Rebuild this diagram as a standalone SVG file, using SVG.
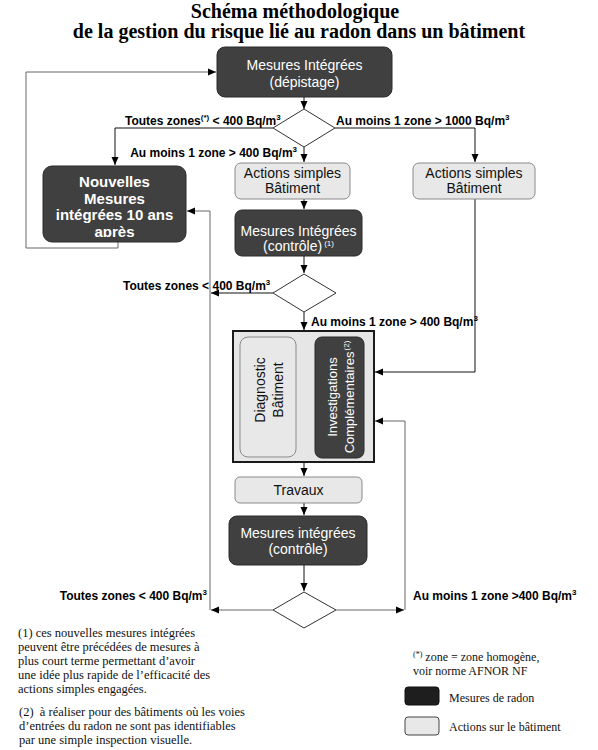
<svg xmlns="http://www.w3.org/2000/svg" width="598" height="750" viewBox="0 0 598 750">
<defs>
<marker id="arr" markerWidth="8" markerHeight="8" refX="8" refY="4" orient="auto" markerUnits="userSpaceOnUse">
<path d="M0,0.5 L8,4 L0,7.5 z" fill="#000"/>
</marker>
<clipPath id="clipN"><rect x="40" y="160" width="150" height="77"/></clipPath>
<style>
.dark{fill:#404040;stroke:#2a2a2a;stroke-width:1}
.light{fill:#e8e8e8;stroke:#8a8a8a;stroke-width:1}
.big{fill:#e6e6e6;stroke:#1a1a1a;stroke-width:2}
.dia{fill:#fff;stroke:#333;stroke-width:1}
.t{font-family:"Liberation Sans",Arial,sans-serif;font-size:14px;text-anchor:middle}
.w{fill:#fff}
.k{fill:#111}
.nb{font-family:"Liberation Sans",Arial,sans-serif;font-size:15px;font-weight:bold;text-anchor:middle;fill:#fff}
.lab{font-family:"Liberation Sans",Arial,sans-serif;font-size:12px;font-weight:bold;fill:#000}
.sup{font-size:8px}
.title{font-family:"Liberation Serif","Times New Roman",serif;font-size:20px;font-weight:bold;text-anchor:middle;fill:#000}
.note{font-family:"Liberation Serif","Times New Roman",serif;font-size:12.5px;fill:#111}
.leg{font-family:"Liberation Serif","Times New Roman",serif;font-size:12px;fill:#111}
.ln{fill:none;stroke:#111;stroke-width:1}
.lg{fill:none;stroke:#666;stroke-width:1}
</style>
</defs>

<g id="title">
<text class="title" x="295" y="18">Schéma méthodologique</text>
<text class="title" x="299" y="38">de la gestion du risque lié au radon dans un bâtiment</text>
</g>

<g id="connectors">
<polyline class="lg" points="118,242 118,248 26,248 26,72 216,72" marker-end="url(#arr)"/>
<line class="ln" x1="304" y1="97" x2="304" y2="109" marker-end="url(#arr)"/>
<polyline class="ln" points="273,128 115,128 115,165" marker-end="url(#arr)"/>
<polyline class="ln" points="335,128 475,128 475,162" marker-end="url(#arr)"/>
<line class="ln" x1="304" y1="147" x2="304" y2="162" marker-end="url(#arr)"/>
<line class="ln" x1="304" y1="199" x2="304" y2="209" marker-end="url(#arr)"/>
<line class="ln" x1="304" y1="256" x2="304" y2="273" marker-end="url(#arr)"/>
<line class="ln" x1="273" y1="293" x2="211" y2="293" marker-end="url(#arr)"/>
<line class="ln" x1="304" y1="312" x2="304" y2="330" marker-end="url(#arr)"/>
<polyline class="ln" points="475,199 475,372 375,372" marker-end="url(#arr)"/>
<line class="ln" x1="296" y1="386" x2="314" y2="386" marker-end="url(#arr)"/>
<line class="lg" x1="315" y1="406" x2="297" y2="406" marker-end="url(#arr)"/>
<line class="ln" x1="304" y1="462" x2="304" y2="476" marker-end="url(#arr)"/>
<line class="ln" x1="304" y1="503" x2="304" y2="515" marker-end="url(#arr)"/>
<line class="ln" x1="304" y1="565" x2="304" y2="591" marker-end="url(#arr)"/>
<line class="lg" x1="273" y1="610" x2="211" y2="610" marker-end="url(#arr)"/>
<polyline class="lg" points="210,610 210,211 187,211" marker-end="url(#arr)"/>
<line class="lg" x1="336" y1="610" x2="404" y2="610" marker-end="url(#arr)"/>
<polyline class="lg" points="405,610 405,421 375,421" marker-end="url(#arr)"/>
</g>

<g id="labels">
<text class="lab" x="125" y="125">Toutes zones<tspan class="sup" dy="-5">(*)</tspan><tspan dy="5"> &lt; 400 Bq/m</tspan><tspan class="sup" dy="-5">3</tspan></text>
<text class="lab" x="336" y="125">Au moins 1 zone &gt; 1000 Bq/m<tspan class="sup" dy="-5">3</tspan></text>
<text class="lab" x="297" y="157" text-anchor="end">Au moins 1 zone &gt; 400 Bq/m<tspan class="sup" dy="-5">3</tspan></text>
<text class="lab" x="123" y="290">Toutes zones &lt; 400 Bq/m<tspan class="sup" dy="-5">3</tspan></text>
<text class="lab" x="311" y="326">Au moins 1 zone &gt; 400 Bq/m<tspan class="sup" dy="-5">3</tspan></text>
<text class="lab" x="207" y="600" text-anchor="end">Toutes zones &lt; 400 Bq/m<tspan class="sup" dy="-5">3</tspan></text>
<text class="lab" x="413" y="600">Au moins 1 zone &gt;400 Bq/m<tspan class="sup" dy="-5">3</tspan></text>
</g>

<g id="n-depistage">
<rect class="dark" x="217" y="47" width="175" height="50" rx="8"/>
<text class="t w" x="304.5" y="70">Mesures Intégrées</text>
<text class="t w" x="304.5" y="87">(dépistage)</text>
</g>

<g id="d1"><polygon class="dia" points="304,109 335,128 304,147 273,128"/></g>

<g id="n-nouvelles">
<rect class="dark" x="43" y="166" width="143" height="76" rx="9"/>
<g clip-path="url(#clipN)">
<text class="nb" x="114.5" y="187">Nouvelles</text>
<text class="nb" x="114.5" y="203.5">Mesures</text>
<text class="nb" x="114.5" y="220">intégrées 10 ans</text>
<text class="nb" x="114.5" y="236.5">après</text>
</g>
</g>

<g id="n-actions1">
<rect class="light" x="235" y="163" width="115" height="36" rx="6"/>
<text class="t k" x="292.5" y="178">Actions simples</text>
<text class="t k" x="292.5" y="193">Bâtiment</text>
</g>

<g id="n-actions2">
<rect class="light" x="413" y="163" width="122" height="36" rx="6"/>
<text class="t k" x="474" y="178">Actions simples</text>
<text class="t k" x="474" y="193">Bâtiment</text>
</g>

<g id="n-controle1">
<rect class="dark" x="235" y="210" width="127" height="46" rx="7"/>
<text class="t w" x="298.5" y="236">Mesures Intégrées</text>
<text class="t w" x="298.5" y="251">(contrôle)<tspan class="sup" dx="2" dy="-5">(1)</tspan></text>
</g>

<g id="d2"><polygon class="dia" points="304,274 336,293 304,312 273,293"/></g>

<g id="n-diagnostic-group">
<rect class="big" x="233" y="331" width="141" height="131"/>
<g id="n-diagnostic">
<rect class="light" x="240" y="337" width="56" height="120" rx="8"/>
<text class="t k" transform="translate(265,390) rotate(-90)" x="0" y="0">Diagnostic</text>
<text class="t k" transform="translate(283,390) rotate(-90)" x="0" y="0">Bâtiment</text>
</g>
<g id="n-investigations">
<rect class="dark" x="315" y="337" width="49" height="121" rx="7"/>
<text class="t w" transform="translate(337,397) rotate(-90)" x="0" y="0" style="font-size:13px">Investigations</text>
<text class="t w" transform="translate(354,397) rotate(-90)" x="0" y="0" style="font-size:13px">Complémentaires<tspan class="sup" dx="1" dy="-5">(2)</tspan></text>
</g>
</g>

<g id="n-travaux">
<rect class="light" x="235" y="477" width="127" height="26" rx="5"/>
<text class="t k" x="298.5" y="495">Travaux</text>
</g>

<g id="n-controle2">
<rect class="dark" x="229" y="516" width="138" height="49" rx="8"/>
<text class="t w" x="298" y="538">Mesures intégrées</text>
<text class="t w" x="298" y="554">(contrôle)</text>
</g>

<g id="d3"><polygon class="dia" points="304,592 336,610 304,628 273,610"/></g>

<g id="notes">
<text class="note" x="18" y="637">(1) ces nouvelles mesures intégrées</text>
<text class="note" x="18" y="651">peuvent être précédées de mesures à</text>
<text class="note" x="18" y="665">plus court terme permettant d’avoir</text>
<text class="note" x="18" y="679">une idée plus rapide de l’efficacité des</text>
<text class="note" x="18" y="693">actions simples engagées.</text>
<text class="note" x="19" y="716" xml:space="preserve">(2)  à réaliser pour des bâtiments où les voies</text>
<text class="note" x="19" y="730">d’entrées du radon ne sont pas identifiables</text>
<text class="note" x="19" y="744">par une simple inspection visuelle.</text>
</g>

<g id="legend">
<text class="leg" x="413" y="661"><tspan style="font-size:8px" dy="-4">(*)</tspan><tspan dy="4"> zone = zone homogène,</tspan></text>
<text class="leg" x="413" y="675">voir norme AFNOR NF</text>
<rect x="405" y="687" width="34" height="18" rx="3" fill="#1e1e1e" stroke="#111"/>
<text class="leg" x="449" y="702">Mesures de radon</text>
<rect x="405" y="717" width="34" height="18" rx="3" fill="#e8e8e8" stroke="#444"/>
<text class="leg" x="449" y="731">Actions sur le bâtiment</text>
</g>
</svg>
